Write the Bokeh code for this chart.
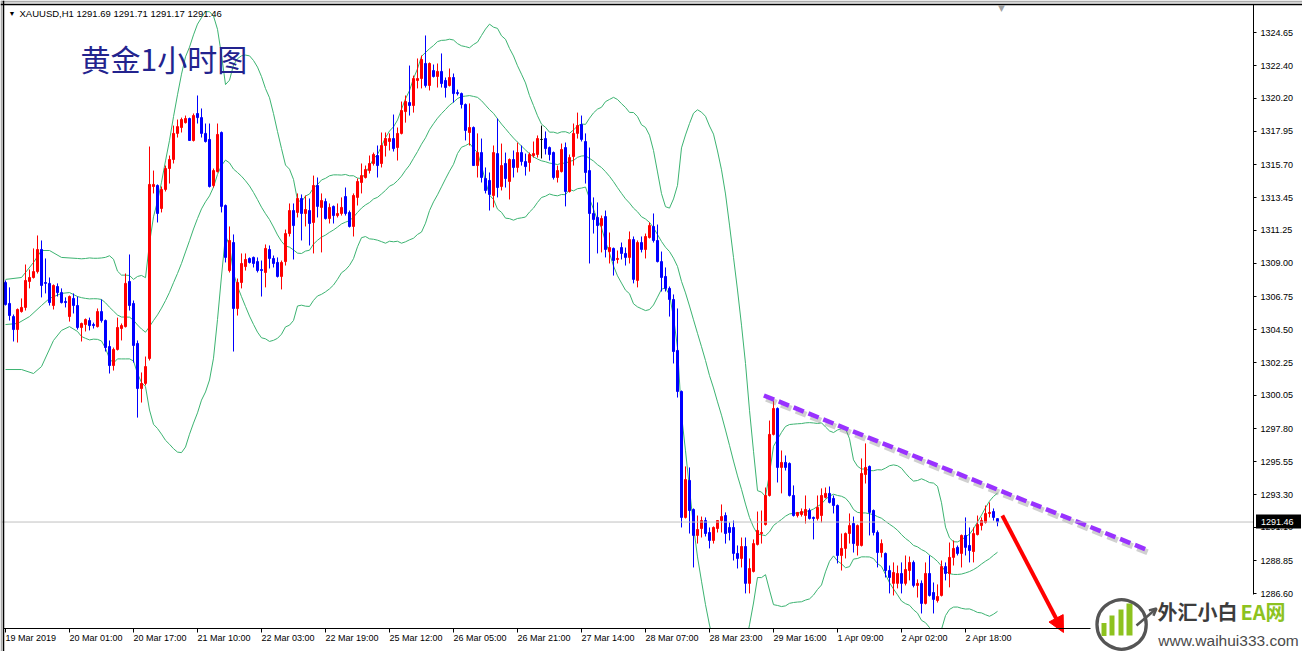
import pandas as pd
from bokeh.plotting import figure
from bokeh.models import (Range1d, FixedTicker, PrintfTickFormatter, Span, Label, LinearAxis,
                          Arrow, NormalHead, OpenHead, ColumnDataSource, BoxAnnotation)
from bokeh.embed import file_html
from bokeh.resources import INLINE

# ---------------- data ----------------
symbol_text = "XAUUSD,H1  1291.69 1291.71 1291.17 1291.46"
title_text = "黄金1小时图"
last_close = 1291.46

opens = [
    1307.70, 1306.28, 1305.39, 1304.51, 1305.73, 1306.01, 1307.77, 1308.04, 1308.44, 1309.94,
    1307.70, 1307.64, 1306.14, 1307.43, 1307.02, 1306.41, 1305.39, 1306.62, 1306.14, 1304.65,
    1304.85, 1305.12, 1304.85, 1304.71, 1305.73, 1305.12, 1303.36, 1302.07, 1303.16, 1304.58,
    1304.71, 1307.77, 1306.28, 1303.57, 1300.51, 1300.86, 1302.55, 1314.21, 1314.28, 1312.72,
    1314.01, 1315.43, 1316.04, 1317.81, 1318.21, 1318.54, 1318.82, 1317.33, 1319.16, 1318.88,
    1317.81, 1317.40, 1314.28, 1315.22, 1317.87, 1312.92, 1308.51, 1310.41, 1305.94, 1307.70,
    1308.78, 1309.33, 1309.40, 1309.12, 1308.58, 1308.38, 1309.94, 1309.33, 1309.06, 1308.11,
    1309.12, 1311.02, 1312.58, 1312.45, 1313.40, 1312.38, 1312.58, 1311.77, 1314.28, 1312.79,
    1313.19, 1312.04, 1312.86, 1312.24, 1312.38, 1313.53, 1312.45, 1311.50, 1313.47, 1314.48,
    1314.82, 1315.29, 1315.77, 1316.31, 1315.77, 1316.99, 1317.26, 1317.46, 1316.85, 1317.81,
    1319.29, 1319.90, 1319.70, 1321.40, 1321.53, 1322.55, 1321.06, 1322.07, 1321.67, 1322.01,
    1321.40, 1321.06, 1321.60, 1320.58, 1320.51, 1319.77, 1317.87, 1318.21, 1315.63, 1316.51,
    1314.75, 1314.62, 1313.60, 1316.44, 1314.21, 1315.77, 1314.55, 1316.04, 1315.50, 1316.51,
    1315.90, 1315.84, 1316.31, 1316.38, 1317.40, 1317.46, 1316.85, 1316.51, 1314.82, 1315.22,
    1316.85, 1313.87, 1316.24, 1317.81, 1318.41, 1317.26, 1315.29, 1312.38, 1312.11, 1311.56,
    1312.17, 1309.80, 1310.01, 1309.26, 1310.07, 1309.67, 1309.40, 1310.61, 1307.84, 1310.41,
    1309.94, 1310.75, 1311.50, 1310.55, 1309.12, 1308.11, 1307.30, 1306.55, 1303.09, 1300.31,
    1291.77, 1294.28, 1292.31, 1290.55, 1291.02, 1291.56, 1290.75, 1290.21, 1291.02, 1291.56,
    1291.90, 1291.09, 1291.09, 1289.33, 1288.99, 1289.80, 1287.30, 1288.11, 1289.94, 1290.68,
    1291.29, 1293.26, 1297.40, 1299.16, 1295.16, 1295.50, 1295.43, 1293.26, 1291.90, 1291.97,
    1291.90, 1292.24, 1291.77, 1291.70, 1291.90, 1293.13, 1293.40, 1293.06, 1292.58, 1289.19,
    1289.67, 1290.68, 1291.36, 1289.87, 1289.87, 1294.68, 1295.23, 1292.24, 1290.75, 1289.39,
    1289.33, 1288.17, 1287.30, 1287.30, 1287.97, 1287.30, 1288.17, 1288.72, 1287.16, 1287.30,
    1285.94, 1287.97, 1286.68, 1286.14, 1286.48, 1288.44, 1287.97, 1289.06, 1289.74, 1289.33,
    1290.55, 1289.87, 1289.46, 1290.61, 1291.22, 1291.43, 1292.04, 1292.17, 1291.69,
]
highs = [
    1307.84, 1307.37, 1305.53, 1305.94, 1306.62, 1308.92, 1308.58, 1310.01, 1310.89, 1310.55,
    1309.33, 1308.04, 1307.57, 1307.64, 1307.30, 1306.69, 1306.82, 1306.96, 1306.75, 1304.98,
    1305.26, 1305.32, 1304.98, 1305.94, 1306.55, 1305.19, 1303.77, 1303.29, 1305.32, 1304.92,
    1308.31, 1309.60, 1306.48, 1303.77, 1301.60, 1302.68, 1316.92, 1315.29, 1314.35, 1314.21,
    1315.63, 1316.31, 1318.34, 1318.75, 1318.88, 1319.02, 1318.88, 1319.16, 1320.38, 1319.50,
    1318.48, 1318.48, 1315.43, 1318.48, 1317.94, 1312.99, 1311.50, 1310.96, 1307.97, 1309.67,
    1309.67, 1309.40, 1309.46, 1309.40, 1309.19, 1310.28, 1310.21, 1309.53, 1309.40, 1309.19,
    1311.29, 1313.06, 1313.06, 1313.74, 1313.67, 1313.60, 1313.40, 1314.95, 1314.82, 1313.74,
    1313.40, 1313.06, 1312.92, 1313.06, 1313.47, 1314.14, 1312.58, 1313.74, 1314.75, 1315.77,
    1315.63, 1316.31, 1316.51, 1316.99, 1317.87, 1317.87, 1317.81, 1319.09, 1318.21, 1319.97,
    1320.38, 1322.41, 1321.73, 1322.89, 1323.09, 1324.45, 1322.62, 1322.48, 1322.55, 1323.23,
    1321.60, 1322.21, 1321.87, 1320.78, 1320.58, 1319.84, 1319.84, 1318.28, 1317.81, 1317.46,
    1315.50, 1315.16, 1316.99, 1318.82, 1317.12, 1316.51, 1316.11, 1316.65, 1317.19, 1316.99,
    1316.44, 1316.51, 1317.26, 1317.67, 1318.34, 1317.94, 1316.92, 1316.58, 1315.63, 1317.12,
    1317.19, 1316.38, 1318.48, 1319.22, 1319.02, 1317.81, 1316.85, 1313.47, 1313.13, 1312.24,
    1312.58, 1311.09, 1310.07, 1309.87, 1310.41, 1310.07, 1311.16, 1310.82, 1310.55, 1310.82,
    1311.02, 1311.77, 1312.38, 1311.63, 1309.80, 1308.72, 1307.43, 1306.89, 1305.94, 1300.38,
    1295.23, 1295.16, 1292.38, 1291.90, 1291.83, 1291.77, 1291.09, 1291.16, 1291.56, 1292.65,
    1292.11, 1291.43, 1291.56, 1289.87, 1290.41, 1290.41, 1288.99, 1290.28, 1292.17, 1292.24,
    1293.80, 1298.34, 1299.70, 1299.23, 1296.31, 1295.97, 1295.50, 1293.94, 1292.11, 1292.38,
    1293.26, 1292.38, 1291.83, 1293.26, 1293.74, 1293.80, 1293.87, 1293.26, 1292.65, 1290.68,
    1290.75, 1292.04, 1291.83, 1291.29, 1295.77, 1296.79, 1295.29, 1292.31, 1290.89, 1290.28,
    1289.39, 1288.51, 1288.72, 1288.51, 1288.72, 1289.19, 1289.12, 1288.85, 1287.57, 1287.50,
    1288.72, 1289.19, 1287.36, 1287.23, 1288.85, 1288.72, 1290.07, 1290.21, 1289.87, 1290.61,
    1291.77, 1291.09, 1291.09, 1291.90, 1291.77, 1292.58, 1292.79, 1292.38, 1291.71,
]
lows = [
    1306.14, 1305.12, 1303.70, 1303.63, 1305.66, 1305.80, 1307.30, 1307.97, 1308.31, 1306.69,
    1306.96, 1306.14, 1305.87, 1306.75, 1306.28, 1306.01, 1305.05, 1305.60, 1304.51, 1303.70,
    1304.38, 1304.45, 1304.58, 1304.65, 1304.98, 1303.02, 1301.53, 1301.73, 1303.09, 1303.77,
    1304.65, 1305.80, 1302.27, 1298.54, 1299.56, 1300.72, 1302.41, 1313.74, 1311.77, 1312.45,
    1313.87, 1314.41, 1315.77, 1317.53, 1317.87, 1318.48, 1317.33, 1317.26, 1318.48, 1317.53,
    1317.19, 1314.14, 1314.14, 1315.16, 1312.45, 1309.06, 1308.38, 1303.02, 1305.46, 1307.30,
    1308.51, 1308.99, 1308.72, 1308.38, 1306.75, 1307.37, 1308.65, 1308.72, 1308.04, 1307.23,
    1308.85, 1310.82, 1309.26, 1312.11, 1310.55, 1311.50, 1310.21, 1309.67, 1312.11, 1309.74,
    1311.97, 1311.70, 1311.70, 1312.11, 1312.24, 1312.24, 1311.43, 1310.82, 1312.92, 1313.74,
    1314.75, 1315.09, 1315.63, 1314.82, 1315.50, 1316.24, 1316.65, 1316.58, 1315.97, 1317.74,
    1318.54, 1319.02, 1319.22, 1320.86, 1320.86, 1320.92, 1320.72, 1321.60, 1320.92, 1320.92,
    1320.24, 1320.99, 1319.90, 1320.38, 1319.50, 1317.33, 1316.99, 1315.63, 1314.82, 1314.48,
    1313.74, 1312.58, 1312.79, 1313.47, 1313.94, 1314.14, 1313.33, 1314.82, 1315.16, 1315.63,
    1314.95, 1315.22, 1316.17, 1316.17, 1316.11, 1316.38, 1315.97, 1314.68, 1314.48, 1315.16,
    1312.86, 1313.80, 1315.63, 1317.46, 1317.26, 1314.41, 1308.99, 1311.02, 1309.67, 1309.74,
    1309.40, 1308.99, 1308.17, 1308.99, 1309.26, 1308.85, 1308.99, 1307.64, 1307.37, 1309.74,
    1309.33, 1310.68, 1310.41, 1309.06, 1307.09, 1307.09, 1305.39, 1302.21, 1299.90, 1291.09,
    1291.70, 1290.68, 1288.38, 1290.00, 1290.41, 1290.48, 1289.67, 1290.00, 1290.75, 1290.75,
    1290.00, 1290.21, 1288.85, 1288.31, 1288.38, 1286.62, 1286.62, 1288.04, 1289.87, 1290.00,
    1291.22, 1293.19, 1297.33, 1294.14, 1293.40, 1294.95, 1293.19, 1291.83, 1291.77, 1291.83,
    1291.36, 1291.63, 1290.28, 1291.56, 1291.43, 1293.06, 1292.72, 1292.04, 1288.65, 1288.17,
    1288.99, 1290.00, 1289.39, 1289.19, 1289.80, 1294.07, 1290.55, 1290.55, 1288.38, 1289.06,
    1287.70, 1286.62, 1286.48, 1286.96, 1286.62, 1287.16, 1287.50, 1287.03, 1286.34, 1285.26,
    1285.87, 1286.41, 1285.26, 1286.00, 1286.41, 1287.50, 1287.03, 1288.51, 1289.19, 1288.38,
    1289.19, 1288.72, 1288.72, 1290.55, 1290.89, 1291.36, 1291.77, 1291.56, 1291.17,
]
closes = [
    1306.21, 1305.46, 1304.51, 1305.87, 1306.01, 1307.84, 1308.04, 1308.44, 1309.94, 1307.50,
    1307.64, 1306.34, 1307.50, 1307.02, 1306.34, 1306.34, 1306.75, 1306.14, 1304.65, 1304.92,
    1305.19, 1304.78, 1304.78, 1305.73, 1305.12, 1303.29, 1302.07, 1303.16, 1304.65, 1304.78,
    1307.64, 1306.14, 1303.43, 1300.51, 1300.86, 1302.00, 1314.35, 1314.35, 1312.38, 1314.01,
    1315.43, 1316.04, 1317.81, 1318.27, 1318.75, 1318.82, 1317.33, 1319.02, 1318.88, 1317.81,
    1317.26, 1314.21, 1315.29, 1317.74, 1312.86, 1309.40, 1310.55, 1305.94, 1307.70, 1308.99,
    1309.26, 1309.06, 1308.99, 1308.51, 1308.51, 1310.01, 1309.33, 1308.99, 1308.11, 1309.06,
    1311.02, 1312.58, 1311.56, 1313.40, 1312.38, 1312.65, 1311.70, 1314.28, 1312.86, 1313.26,
    1312.04, 1312.79, 1312.24, 1312.38, 1312.79, 1312.38, 1311.50, 1313.60, 1314.55, 1314.95,
    1315.36, 1315.77, 1316.38, 1315.63, 1316.99, 1317.46, 1317.46, 1316.78, 1317.81, 1319.36,
    1319.97, 1319.70, 1321.53, 1321.53, 1322.82, 1321.06, 1322.55, 1321.67, 1322.01, 1321.19,
    1320.92, 1321.60, 1320.51, 1320.51, 1319.77, 1318.01, 1318.21, 1315.63, 1316.51, 1314.82,
    1313.94, 1313.67, 1316.51, 1314.14, 1315.63, 1314.75, 1316.04, 1315.50, 1316.51, 1315.90,
    1315.56, 1316.38, 1316.44, 1317.46, 1317.40, 1316.78, 1316.38, 1314.82, 1315.29, 1316.72,
    1313.87, 1316.17, 1317.81, 1318.34, 1317.40, 1315.16, 1312.38, 1311.97, 1311.56, 1312.04,
    1309.94, 1310.07, 1309.19, 1309.33, 1309.67, 1309.40, 1310.61, 1307.91, 1310.41, 1309.94,
    1310.82, 1311.56, 1310.55, 1309.12, 1308.04, 1307.30, 1306.55, 1303.02, 1300.31, 1291.77,
    1294.34, 1292.24, 1290.55, 1290.95, 1291.56, 1290.68, 1290.21, 1291.09, 1291.56, 1291.83,
    1290.68, 1290.75, 1289.33, 1288.99, 1289.80, 1287.30, 1288.31, 1290.00, 1290.89, 1290.75,
    1293.26, 1297.40, 1299.16, 1295.16, 1295.50, 1295.16, 1293.26, 1291.90, 1292.11, 1292.17,
    1292.31, 1291.70, 1291.70, 1292.45, 1293.26, 1293.40, 1292.79, 1292.58, 1289.19, 1289.67,
    1290.68, 1291.22, 1290.00, 1291.22, 1294.75, 1295.16, 1292.11, 1290.75, 1289.39, 1290.00,
    1288.17, 1287.70, 1288.04, 1287.97, 1287.30, 1288.24, 1288.72, 1287.16, 1287.30, 1285.94,
    1287.97, 1286.48, 1286.21, 1286.41, 1288.44, 1287.97, 1289.06, 1289.67, 1289.33, 1290.55,
    1289.74, 1289.53, 1290.68, 1291.29, 1291.56, 1292.04, 1292.11, 1291.77, 1291.46,
]

x_tick_bars = [0, 16, 32, 48, 64, 80, 96, 112, 128, 144, 160, 176, 192, 208, 224, 240]
x_tick_labels = ["19 Mar 2019", "20 Mar 01:00", "20 Mar 17:00", "21 Mar 10:00", "22 Mar 03:00",
                 "22 Mar 19:00", "25 Mar 12:00", "26 Mar 05:00", "26 Mar 21:00", "27 Mar 14:00",
                 "28 Mar 07:00", "28 Mar 23:00", "29 Mar 16:00", "1 Apr 09:00", "2 Apr 02:00",
                 "2 Apr 18:00"]
y_ticks = [1324.65, 1322.40, 1320.20, 1317.95, 1315.70, 1313.45, 1311.25, 1309.00, 1306.75,
           1304.50, 1302.25, 1300.05, 1297.80, 1295.55, 1293.30, 1291.10, 1288.85, 1286.60]

# Bollinger bands (20, 2); the first bars are read off the picture (their history is not shown)
bb_period = 20
bb_dev = 2.0
upper_head_x = [0, 4, 7, 9, 11, 14, 18]
upper_head = [1307.91, 1308.04, 1309.06, 1309.87, 1309.87, 1309.40, 1309.33]
middle_head_x = [0, 3, 6, 9, 11, 14, 16, 18]
middle_head = [1304.85, 1304.92, 1305.39, 1306.14, 1306.62, 1306.96, 1307.02, 1306.75]
lower_head_x = [0, 4, 7, 9, 12, 14, 16, 18]
lower_head = [1301.80, 1301.80, 1301.53, 1302.00, 1303.77, 1304.45, 1304.71, 1304.38]

# hand-drawn annotations (bar index, price)
trend_x = [189.6, 285.8]
trend_y = [1300.04, 1289.53]
arrow_x = [249.2, 264.5]
arrow_y = [1291.90, 1283.97]

logo_cn = "外汇小白"
logo_ea = "EA网"
logo_url = "www.waihui333.com"

# ---------------- figure ----------------
n = len(closes)
bars = list(range(n))
# chart window: bars -0.5 .. 312 between the left frame and the price axis
X0, X1 = -0.5, 312.0
Y0, Y1 = 1284.24, 1326.55

# helpers that place window decorations at positions of the reference window (pixels)
REF_L, REF_R, REF_T, REF_B = 3, 1253, 4, 628
def px2x(px):
    return X0 + (px - REF_L) * (X1 - X0) / (REF_R - REF_L)
def py2y(py):
    return Y1 - (py - REF_T) * (Y1 - Y0) / (REF_B - REF_T)

UP, DOWN, DOJI = "#FF0000", "#0000FF", "#000000"
BAND = "#3CB371"
FONT = "Liberation Sans"
CJK = "Noto Sans CJK SC"

p = figure(width=1302, height=651,
           x_range=Range1d(px2x(0), px2x(1302)), y_range=Range1d(py2y(651), py2y(0)),
           output_backend="svg", toolbar_location=None,
           x_axis_location=None, y_axis_location=None, min_border=0,
           background_fill_color="white", border_fill_color="white", title=None)
p.xgrid.visible = False
p.ygrid.visible = False
p.outline_line_color = None


def fixed_axis(side, loc, ticks=(), labels=(), bounds=None, line_color=None, line_width=1,
               font=FONT, size="9px", color="black", style="normal", standoff=0,
               tick_out=0, orientation="horizontal", formatter=None):
    ax = LinearAxis(fixed_location=loc, ticker=FixedTicker(ticks=list(ticks)),
                    major_tick_in=0, major_tick_out=tick_out, minor_tick_in=0, minor_tick_out=0,
                    major_tick_line_color=("black" if tick_out else None),
                    minor_tick_line_color=None,
                    axis_line_color=line_color, axis_line_width=line_width,
                    major_label_text_font=font, major_label_text_font_size=size,
                    major_label_text_color=color, major_label_text_font_style=style,
                    major_label_standoff=standoff, major_label_orientation=orientation,
                    level="overlay")
    if labels:
        ax.major_label_overrides = dict(zip(ticks, labels))
    if formatter is not None:
        ax.formatter = formatter
    if bounds is not None:
        ax.bounds = bounds
    p.add_layout(ax, side)
    return ax


# current price line
p.add_layout(Span(location=last_close, dimension="width", line_color="#C0C0C0", line_width=1))

# Bollinger bands
cl = pd.Series(closes)
mid = cl.rolling(bb_period).mean()
sd = cl.rolling(bb_period).std(ddof=0)
up = mid + bb_dev * sd
lo = mid - bb_dev * sd
s = bb_period - 1
for hx, hv, ser in ((upper_head_x, upper_head, up), (middle_head_x, middle_head, mid),
                    (lower_head_x, lower_head, lo)):
    p.line(hx + bars[s:], hv + list(ser[s:]), line_color=BAND, line_width=1)

# candles
colors = [UP if c > o else (DOWN if c < o else DOJI) for o, c in zip(opens, closes)]
src = ColumnDataSource(dict(
    x=bars, high=highs, low=lows,
    top=[max(o, c) for o, c in zip(opens, closes)],
    bottom=[min(o, c) for o, c in zip(opens, closes)],
    color=colors))
p.segment(x0="x", y0="high", x1="x", y1="low", source=src, line_color="color", line_width=1)
p.vbar(x="x", width=0.5, top="top", bottom="bottom", source=src,
       fill_color="color", line_color="color", line_width=1)

# dashed purple trend line with soft shadow
p.line([v + 0.6 for v in trend_x], [v - 0.22 for v in trend_y], line_color="#777777",
       line_alpha=0.35, line_width=6, line_dash="11 5")
p.line(trend_x, trend_y, line_color="#9932FF", line_width=4.5, line_dash="11 5")

# the chart window ends at the axes: blank the margins outside it
p.add_layout(BoxAnnotation(left=px2x(0), right=px2x(1302), bottom=py2y(651), top=py2y(628.5),
                           fill_color="white", fill_alpha=1.0, line_alpha=0.0))
p.add_layout(BoxAnnotation(left=px2x(1253.5), right=px2x(1302), bottom=py2y(651), top=py2y(0),
                           fill_color="white", fill_alpha=1.0, line_alpha=0.0))
# window border
p.add_layout(BoxAnnotation(left=px2x(0), right=px2x(1302), bottom=py2y(2), top=py2y(0),
                           fill_color="#ABABAB", fill_alpha=1.0, line_alpha=0.0))
p.add_layout(BoxAnnotation(left=px2x(0), right=px2x(1.5), bottom=py2y(651), top=py2y(0),
                           fill_color="#ABABAB", fill_alpha=1.0, line_alpha=0.0))

# red arrow
p.add_layout(Arrow(end=NormalHead(size=16, fill_color="#FF0000", line_color="#FF0000"),
                   x_start=arrow_x[0], y_start=arrow_y[0], x_end=arrow_x[1], y_end=arrow_y[1],
                   line_color="#FF0000", line_width=4))

# axes of the chart window
fixed_axis("below", Y0, ticks=x_tick_bars, labels=x_tick_labels, bounds=(X0, px2x(1090)),
           line_color="black", tick_out=4, standoff=5, orientation=-1e-9)
fixed_axis("right", X1, ticks=y_ticks, bounds=(1286.55, Y1), line_color="black", tick_out=3,
           standoff=4, formatter=PrintfTickFormatter(format="%.2f"))
# price tag (black box with white text) on the price axis
fixed_axis("right", px2x(1277.5), ticks=[last_close], labels=["%.2f" % last_close],
           bounds=(py2y(527.5), py2y(513.5)), line_color="black", line_width=45,
           color="white", standoff=-17)
# left and top edges of the window, with the chart-shift marker
fixed_axis("left", X0, line_color="black", line_width=1.5)
fixed_axis("above", Y1, ticks=[px2x(1001)], labels=["▼"], line_color="black", line_width=1.5,
           font="DejaVu Sans", size="9px", color="#A0A0A0", standoff=-8)

# header and title
p.add_layout(Label(x=px2x(8), y=py2y(13), text="▼", text_font_size="7px", text_color="black",
                   text_baseline="middle", text_align="left"))
p.add_layout(Label(x=px2x(19), y=py2y(13), text=symbol_text, text_font=FONT,
                   text_font_size="9.5px", text_color="black", text_baseline="middle",
                   text_align="left"))
p.add_layout(Label(x=px2x(80), y=py2y(57), text=title_text, text_font=CJK,
                   text_font_size="30px", text_color="#23238E", text_baseline="middle",
                   text_align="left"))

# watermark logo
for (l, rgt, top) in ((1101, 1106, 622), (1109, 1114, 615), (1118, 1123, 609), (1126, 1132, 603)):
    fixed_axis("below", py2y((top + 635) / 2), bounds=(px2x(l), px2x(rgt)),
               line_color="#8DC21F", line_width=635 - top)
fixed_axis("below", py2y(589.5), ticks=[px2x(1121)], labels=["◯"], font="DejaVu Sans",
           size="52px", color="#555555")
p.add_layout(Arrow(end=OpenHead(size=7, line_color="#555555", line_width=2.5),
                   x_start=px2x(1136), y_start=py2y(625), x_end=px2x(1156), y_end=py2y(608),
                   line_color="#555555", line_width=2.5))
p.add_layout(Label(x=px2x(1157), y=py2y(611), text=logo_cn, text_font=CJK,
                   text_font_style="bold", text_font_size="20px", text_color="#3C3C3C",
                   text_baseline="middle", text_align="left"))
fixed_axis("right", px2x(1240), ticks=[py2y(611)], labels=[logo_ea], font=CJK,
           size="20px", color="#8DC21F", style="bold")
fixed_axis("below", py2y(631), ticks=[px2x(1228)], labels=[logo_url], size="15.5px",
           color="#4A4A4A")

open("out.html", "w").write(file_html(p, INLINE))
